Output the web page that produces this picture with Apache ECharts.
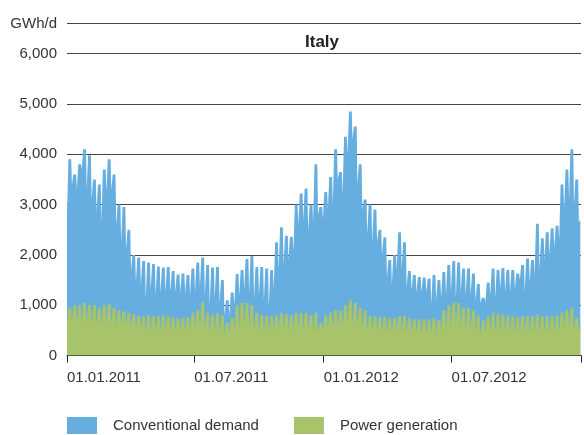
<!DOCTYPE html>
<html>
<head>
<meta charset="utf-8">
<script src="https://cdn.jsdelivr.net/npm/echarts@6/dist/echarts.min.js"></script>
<style>
  html, body { margin: 0; padding: 0; background: #fff; }
  #chart { width: 584px; height: 435px; }
</style>
</head>
<body>
<div id="chart"></div>
<script>
'use strict'
// weekly readings, week i starts on Saturday 01.01.2011 + 7*i (GWh/d)
// weekend = Sat/Sun at the start of the week, weekday = Mon..Fri
const convWeekend = [
  2200, 2750, 2650, 3050, 2650, 2480, 2230, 2030, 2600, 2680, 2000, 1650, 1520, 1140, 910,
  880, 650, 800, 720, 750, 750, 760, 780, 780, 770, 720, 730, 790, 700, 520,
  660, 600, 380, 350, 500, 650, 700, 670, 630, 720, 630, 500, 820, 1200, 1300,
  1400, 1560, 2100, 2180, 1960, 2150, 2350, 2220, 2350, 2450, 2950, 2600, 3350, 3650, 2800,
  2320, 1900, 1750, 1780, 1520, 1100, 950, 1230, 1220, 900, 850, 810, 820, 820, 600,
  660, 700, 680, 700, 600, 710, 680, 700, 620, 630, 600, 720, 670, 850, 780,
  790, 860, 1050, 810, 1010, 1130, 1240, 1440, 1540, 1690, 1820, 2380, 2550, 2500, 2170
];
const convWeekday = [
  2950, 2600, 2800, 3050, 2980, 2500, 2450, 2700, 2880, 2650, 2100, 2070, 1650, 1180, 1170,
  1100, 1050, 1040, 990, 950, 980, 920, 870, 880, 840, 880, 950, 890, 950, 950,
  910, 700, 450, 500, 620, 650, 870, 980, 910, 960, 930, 920, 1450, 1700, 1560,
  1560, 2150, 2370, 2470, 2200, 2950, 2300, 2450, 2700, 3200, 2750, 3350, 3750, 3500, 2850,
  2200, 2220, 2120, 1740, 1590, 1160, 1250, 1670, 1470, 940, 880, 840, 830, 810, 860,
  800, 760, 800, 830, 800, 780, 780, 730, 620, 450, 670, 880, 880, 920, 900,
  920, 870, 1020, 1150, 1120, 1800, 1550, 1670, 1750, 1780, 2550, 2800, 3150, 2750, 2050
];
const powerWeekend = [
  600, 650, 650, 650, 650, 620, 620, 620, 650, 620, 600, 600, 580, 560, 540,
  520, 480, 500, 480, 500, 500, 500, 480, 470, 460, 480, 520, 560, 500, 480,
  470, 450, 420, 450, 500, 550, 600, 580, 500, 480, 470, 450, 480, 500, 500,
  500, 500, 500, 520, 500, 500, 450, 500, 550, 550, 550, 600, 650, 650, 600,
  580, 500, 500, 480, 480, 450, 450, 470, 480, 450, 450, 450, 440, 440, 430,
  440, 450, 520, 560, 550, 550, 520, 500, 480, 420, 450, 480, 480, 480, 470,
  470, 460, 450, 450, 450, 470, 460, 460, 460, 460, 480, 520, 550, 500, 480
];
const powerWeekday = [
  950, 1000, 1000, 1050, 1000, 1000, 950, 1000, 1020, 950, 900, 880, 850, 820, 780,
  780, 800, 780, 780, 800, 780, 760, 740, 750, 760, 850, 900, 1060, 850, 800,
  850, 800, 650, 750, 1000, 1050, 1050, 1000, 850, 800, 800, 780, 800, 850, 820,
  800, 850, 850, 850, 800, 850, 650, 800, 850, 900, 900, 1000, 1100, 1050, 950,
  900, 780, 780, 760, 760, 740, 750, 780, 780, 740, 720, 720, 720, 720, 740,
  700, 900, 1000, 1050, 1050, 950, 950, 900, 800, 700, 780, 850, 820, 820, 800,
  780, 760, 780, 780, 780, 820, 780, 780, 780, 800, 850, 900, 950, 750, 650
];
const xTickDays = [0, 181, 365, 547, 731];
const xTickLabels = ['01.01.2011', '01.07.2011', '01.01.2012', '01.07.2012', ''];
const lastDay = 730;

const FONT = "'Liberation Sans', Arial, sans-serif";
const BLUE = '#65aedf';
const GREEN = '#a8c46a';

// Sat, Sun -> weekend value; Mon, Fri -> weekday value
function buildSeries(weekend, weekday, baseWeekend, baseWeekday) {
  let out = [];
  weekend.forEach((we, i) => {
    let d = 7 * i;
    let bE = baseWeekend ? baseWeekend[i] : 0;
    let bW = baseWeekday ? baseWeekday[i] : 0;
    [[d, we + bE], [d + 1, we + bE], [d + 2, weekday[i] + bW], [d + 6, weekday[i] + bW]].forEach((p) => {
      if (p[0] <= lastDay) out.push(p);
    });
  });
  return out;
}

let myChart = echarts.init(document.getElementById('chart'), null, { renderer: 'canvas' });
let option = {
  animation: false,
  title: {
    text: 'Italy',
    left: 305,
    top: 34,
    padding: 0,
    textStyle: { fontFamily: FONT, fontSize: 17, fontWeight: 'bold', color: '#222' }
  },
  legend: {
    bottom: 1,
    left: 67,
    padding: 0,
    icon: 'rect',
    itemWidth: 30,
    itemHeight: 17,
    itemGap: 35,
    data: [
      { name: 'Conventional demand', itemStyle: { color: BLUE } },
      { name: 'Power generation', itemStyle: { color: GREEN } }
    ],
    textStyle: { fontFamily: FONT, fontSize: 15, color: '#333', padding: [0, 0, 0, 11] }
  },
  grid: { left: 67, right: 3, top: 23.5, bottom: 79.5, containLabel: false },
  xAxis: {
    type: 'value',
    min: 0,
    max: 731,
    splitLine: { show: false },
    axisLine: { lineStyle: { color: '#222', width: 1 } },
    axisTick: { show: true, length: 7, customValues: xTickDays, lineStyle: { color: '#222' } },
    axisLabel: {
      customValues: xTickDays.slice(0, 4),
      formatter: (v) => xTickLabels[xTickDays.indexOf(v)] || '',
      align: 'left',
      margin: 15,
      fontFamily: FONT,
      fontSize: 15,
      color: '#333'
    }
  },
  yAxis: {
    type: 'value',
    min: 0,
    max: 6600,
    interval: 1000,
    axisLine: { show: false },
    axisTick: { show: false },
    splitLine: { lineStyle: { color: '#444', width: 1 } },
    axisLabel: {
      margin: 10,
      fontFamily: FONT,
      fontSize: 15,
      color: '#333',
      formatter: (v) => v === 6600 ? 'GWh/d' : v.toLocaleString('en-US')
    }
  },
  series: [
    {
      // top of the blue band = power + conventional (stacked by hand)
      name: 'Conventional demand',
      type: 'line',
      showSymbol: false,
      itemStyle: { color: BLUE },
      lineStyle: { width: 0 },
      areaStyle: { color: BLUE, opacity: 1 },
      data: buildSeries(convWeekend, convWeekday, powerWeekend, powerWeekday),
      z: 2
    },
    {
      name: 'Power generation',
      type: 'line',
      showSymbol: false,
      itemStyle: { color: GREEN },
      lineStyle: { width: 0 },
      areaStyle: { color: GREEN, opacity: 1 },
      data: buildSeries(powerWeekend, powerWeekday),
      z: 3
    }
  ]
};
myChart.setOption(option);
</script>
</body>
</html>
